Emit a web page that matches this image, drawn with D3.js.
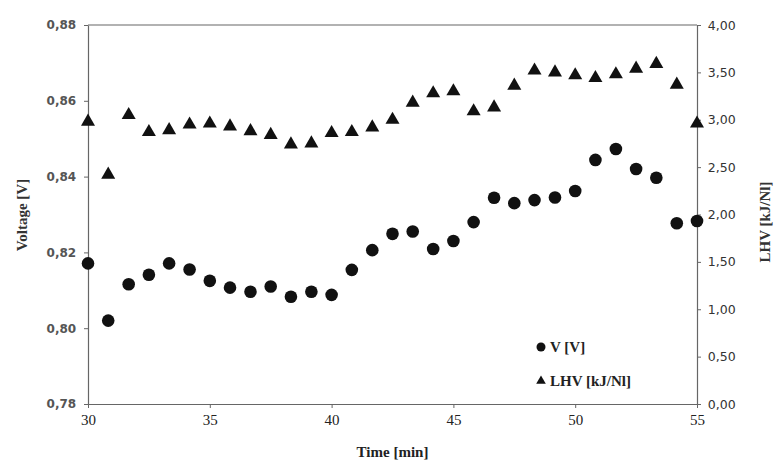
<!DOCTYPE html>
<html lang="en">
<head>
  <meta charset="UTF-8">
  <title>Voltage and LHV vs time</title>
  <script src="https://d3js.org/d3.v7.min.js"></script>
  <style>
    body { margin: 0; background: #fff; }
    svg { display: block; }
  </style>
</head>
<body>
<svg width="779" height="471"></svg>
<script>
  // time in minutes (one sample every 50 s)
  const time = [30, 30.83, 31.67, 32.5, 33.33, 34.17, 35, 35.83, 36.67, 37.5, 38.33,
    39.17, 40, 40.83, 41.67, 42.5, 43.33, 44.17, 45, 45.83, 46.67, 47.5, 48.33,
    49.17, 50, 50.83, 51.67, 52.5, 53.33, 54.17, 55];

  const voltage = [0.8171, 0.8020, 0.8116, 0.8141, 0.8171, 0.8155, 0.8125, 0.8107,
    0.8096, 0.8110, 0.8083, 0.8096, 0.8088, 0.8154, 0.8206, 0.8249, 0.8255, 0.8209,
    0.8230, 0.8280, 0.8344, 0.8330, 0.8338, 0.8345, 0.8362, 0.8444, 0.8473, 0.8420,
    0.8397, 0.8277, 0.8283];

  const lhv = [2.98, 2.42, 3.05, 2.87, 2.89, 2.95, 2.96, 2.93, 2.88, 2.84, 2.74,
    2.75, 2.86, 2.87, 2.92, 3.00, 3.18, 3.28, 3.30, 3.09, 3.13, 3.36, 3.52, 3.50,
    3.47, 3.44, 3.48, 3.54, 3.59, 3.37, 2.96];

  const xTicks = [30, 35, 40, 45, 50, 55];
  const vTicks = [0.78, 0.80, 0.82, 0.84, 0.86, 0.88];
  const lhvTicks = [0, 0.5, 1, 1.5, 2, 2.5, 3, 3.5, 4];

  const svg = d3.select("svg");
  const margin = { top: 25, right: 82, bottom: 67, left: 88 };
  const width = +svg.attr("width");
  const height = +svg.attr("height");
  const innerWidth = width - margin.left - margin.right;
  const innerHeight = height - margin.top - margin.bottom;

  const g = svg.append("g")
    .attr("transform", `translate(${margin.left},${margin.top})`);

  const x = d3.scaleLinear().domain([30, 55]).range([0, innerWidth]);
  const yV = d3.scaleLinear().domain([0.78, 0.88]).range([innerHeight, 0]);
  const yL = d3.scaleLinear().domain([0, 4]).range([innerHeight, 0]);

  const comma = d3.formatLocale({ decimal: ",", thousands: ".", grouping: [3], currency: ["", ""] });

  // top frame line
  g.append("line")
    .attr("x1", 0).attr("x2", innerWidth)
    .attr("y1", 0).attr("y2", 0)
    .attr("stroke", "#666").attr("stroke-width", 1.2);

  // x axis
  const xAxis = g.append("g")
    .attr("transform", `translate(0,${innerHeight})`)
    .call(d3.axisBottom(x).tickValues(xTicks).tickSize(4).tickSizeOuter(0));
  xAxis.selectAll("text")
    .attr("font-family", "Liberation Serif, serif")
    .attr("font-size", 15).attr("fill", "#222").attr("dy", "0.95em");

  // left axis
  const leftAxis = g.append("g")
    .call(d3.axisLeft(yV).tickValues(vTicks).tickFormat(comma.format(".2f")).tickSize(4).tickSizeOuter(0));
  leftAxis.selectAll("text")
    .attr("font-family", "DejaVu Sans, sans-serif")
    .attr("font-weight", "bold")
    .attr("font-size", 12).attr("fill", "#555").attr("dx", "-0.4em");

  // right axis
  const rightAxis = g.append("g")
    .attr("transform", `translate(${innerWidth},0)`)
    .call(d3.axisRight(yL).tickValues(lhvTicks).tickFormat(comma.format(".2f")).tickSize(4).tickSizeOuter(0));
  rightAxis.selectAll("text")
    .attr("font-family", "DejaVu Sans, sans-serif")
    .attr("font-size", 12.5).attr("fill", "#333").attr("dx", "0.3em");

  [xAxis, leftAxis, rightAxis].forEach(a => {
    a.select(".domain").attr("stroke", "#666").attr("stroke-width", 1.2);
    a.selectAll(".tick line").attr("stroke", "#666");
  });

  // axis titles
  svg.append("text")
    .attr("x", margin.left + innerWidth / 2).attr("y", 457)
    .attr("text-anchor", "middle")
    .attr("font-family", "Liberation Serif, serif")
    .attr("font-weight", "bold").attr("font-size", 15).attr("fill", "#222")
    .text("Time [min]");

  svg.append("text")
    .attr("transform", "translate(27,215) rotate(-90)")
    .attr("text-anchor", "middle")
    .attr("font-family", "Liberation Serif, serif")
    .attr("font-weight", "bold").attr("font-size", 15).attr("fill", "#333")
    .text("Voltage [V]");

  svg.append("text")
    .attr("transform", "translate(770,222) rotate(-90)")
    .attr("text-anchor", "middle")
    .attr("font-family", "Liberation Serif, serif")
    .attr("font-weight", "bold").attr("font-size", 15).attr("fill", "#333")
    .text("LHV [kJ/Nl]");

  const tri = d3.symbol().type(d3.symbolTriangle).size(85);

  // LHV triangles
  g.selectAll(".lhv")
    .data(time.map((t, i) => [t, lhv[i]]))
    .enter()
    .append("path")
    .attr("class", "lhv")
    .attr("d", tri)
    .attr("transform", d => `translate(${x(d[0])},${yL(d[1])})`)
    .attr("fill", "#111");

  // Voltage circles
  g.selectAll(".volt")
    .data(time.map((t, i) => [t, voltage[i]]))
    .enter()
    .append("circle")
    .attr("class", "volt")
    .attr("cx", d => x(d[0]))
    .attr("cy", d => yV(d[1]))
    .attr("r", 6.3)
    .attr("fill", "#111");

  // legend
  const legend = svg.append("g").attr("transform", "translate(541,347)");
  legend.append("circle").attr("cx", 0).attr("cy", 0).attr("r", 4.5).attr("fill", "#111");
  legend.append("path").attr("d", d3.symbol().type(d3.symbolTriangle).size(40))
    .attr("transform", "translate(0,34)").attr("fill", "#111");
  legend.append("text").attr("x", 9).attr("y", 5)
    .attr("font-family", "Liberation Serif, serif").attr("font-weight", "bold")
    .attr("font-size", 15).attr("fill", "#222")
    .text("V [V]");
  legend.append("text").attr("x", 9).attr("y", 39)
    .attr("font-family", "Liberation Serif, serif").attr("font-weight", "bold")
    .attr("font-size", 15).attr("fill", "#222")
    .text("LHV [kJ/Nl]");
</script>
</body>
</html>
